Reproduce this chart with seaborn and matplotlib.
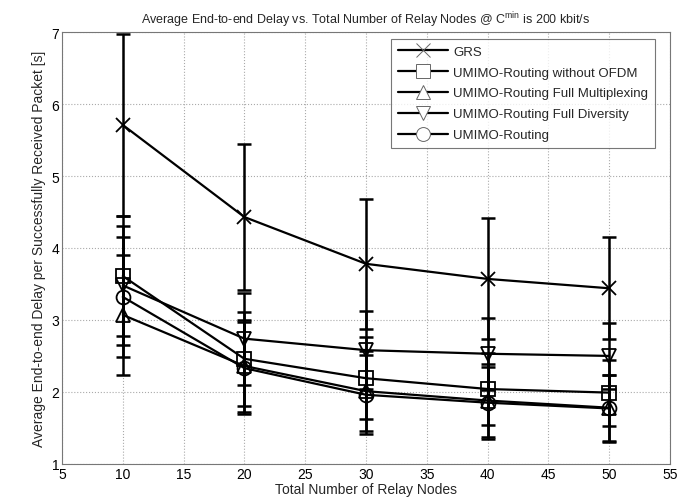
import numpy as np
import pandas as pd
import seaborn as sns
import matplotlib.pyplot as plt
from matplotlib.lines import Line2D

# values
nodes = [10, 20, 30, 40, 50]
series_names = ['GRS', 'UMIMO-Routing without OFDM', 'UMIMO-Routing Full Multiplexing',
                'UMIMO-Routing Full Diversity', 'UMIMO-Routing']
grs = [5.71, 4.43, 3.78, 3.57, 3.44]
no_ofdm = [3.61, 2.46, 2.19, 2.04, 1.99]
full_mux = [3.07, 2.36, 2.01, 1.88, 1.78]
full_div = [3.48, 2.74, 2.58, 2.53, 2.50]
umimo = [3.32, 2.33, 1.96, 1.85, 1.77]
grs_err = [1.26, 1.02, 0.90, 0.84, 0.71]
no_ofdm_err = [0.83, 0.65, 0.57, 0.50, 0.46]
full_mux_err = [0.83, 0.64, 0.56, 0.51, 0.46]
full_div_err = [0.83, 0.64, 0.54, 0.50, 0.46]
umimo_err = [0.83, 0.64, 0.55, 0.50, 0.46]

means = [grs, no_ofdm, full_mux, full_div, umimo]
errs = [grs_err, no_ofdm_err, full_mux_err, full_div_err, umimo_err]
marker_list = ['x', 's', '^', 'v', 'o']

rows = []
for name, vals, ev in zip(series_names, means, errs):
    for n, v, e in zip(nodes, vals, ev):
        rows.append({'nodes': n, 'delay': v, 'err': e, 'series': name})
df = pd.DataFrame(rows)

sns.set_style("whitegrid")
plt.rcParams['font.family'] = ['Liberation Sans', 'DejaVu Sans']
plt.rcParams['mathtext.default'] = 'regular'

fig = plt.figure(figsize=(6.81, 5.02), dpi=100)
ax = fig.add_axes([0.091, 0.074, 0.893, 0.86])

# one line per series (x marker is line art, can't mix with filled ones in one call)
for name, m in zip(series_names, marker_list):
    sub = df[df['series'] == name]
    sns.lineplot(data=sub, x='nodes', y='delay', color='black', linewidth=1.6,
                 marker=m, markersize=10, markerfacecolor='none',
                 markeredgecolor='black', markeredgewidth=1.3, ax=ax)
    ax.errorbar(sub['nodes'], sub['delay'], yerr=sub['err'], fmt='none',
                ecolor='black', elinewidth=1.8, capsize=5, capthick=1.8, zorder=3)

ax.set_xlim(5, 55)
ax.set_ylim(1, 7)
ax.set_xticks(range(5, 56, 5))
ax.set_yticks(range(1, 8))
ax.grid(True, linestyle=':', color='#aaaaaa', linewidth=0.8)
for sp in ax.spines.values():
    sp.set_visible(True)
    sp.set_color('#777777')
    sp.set_linewidth(0.8)
ax.tick_params(axis='both', labelsize=10, length=0, pad=2, colors='black')

ax.set_xlabel('Total Number of Relay Nodes', fontsize=10, labelpad=1)
ax.set_ylabel('Average End-to-end Delay per Successfully Received Packet [s]', fontsize=10, labelpad=4)
ax.set_title(r'Average End-to-end Delay vs. Total Number of Relay Nodes @ C$^{min}$ is 200 kbit/s',
             fontsize=9, pad=6)

handles = [Line2D([0], [0], color='black', linewidth=1.6, marker=m, markersize=10,
                  markerfacecolor='white', markeredgecolor='#666666', markeredgewidth=0.7)
           for m in marker_list]
leg = ax.legend(handles, series_names, loc='upper right', bbox_to_anchor=(0.975, 0.984),
                borderaxespad=0, fontsize=9.5, handlelength=3.8, frameon=True, fancybox=False,
                borderpad=0.5, labelspacing=0.65, handletextpad=0.4)
leg.get_frame().set_edgecolor('#555555')
leg.get_frame().set_linewidth(0.8)

fig.savefig('out.png', dpi=100)
